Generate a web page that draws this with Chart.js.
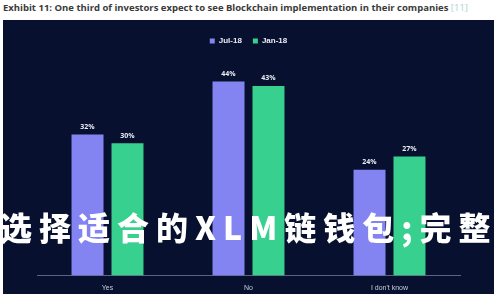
<!DOCTYPE html>
<html>
<head>
<meta charset="utf-8">
<script src="https://cdn.jsdelivr.net/npm/chart.js@4.4.0/dist/chart.umd.min.js"></script>
<style>
  body { margin: 0; background: #fff; width: 500px; height: 300px; overflow: hidden; position: relative; font-family: "Open Sans", "Liberation Sans", sans-serif; }
  .titulo { position: absolute; left: 3px; top: 1px; font-size: 9.5px; font-weight: 700; color: #3a3a3a; white-space: nowrap; }
  .titulo span { color: #a9d4cc; font-weight: 400; }
  .painel { position: absolute; left: 3px; top: 20px; width: 491px; height: 274px; background: #08102f; }
  .sobreposto { position: absolute; left: 0px; top: 203px; font-family: "Noto Sans CJK SC", sans-serif; font-weight: 900; font-size: 32px; color: #fff; white-space: nowrap; letter-spacing: 7px; }
</style>
</head>
<body>
<div class="titulo">Exhibit 11: One third of investors expect to see Blockchain implementation in their companies <span>[11]</span></div>
<div class="painel"><canvas id="grafico" width="491" height="274"></canvas></div>
<div class="sobreposto">选择适合的XLM链钱包;完整</div>
<script>
const categorias = ["Yes", "No", "I don't know"];
const julho18 = [32, 44, 24];
const janeiro18 = [30, 43, 27];

const rotulosBarras = {
  id: 'rotulosBarras',
  afterDatasetsDraw(chart) {
    const ctx = chart.ctx;
    ctx.save();
    ctx.fillStyle = '#e8ecf5';
    ctx.font = 'bold 7px "Open Sans", sans-serif';
    ctx.textAlign = 'center';
    ctx.textBaseline = 'bottom';
    chart.data.datasets.forEach((ds, i) => {
      chart.getDatasetMeta(i).data.forEach((bar, j) => {
        ctx.fillText(ds.data[j] + '%', bar.x, bar.y - 4);
      });
    });
    ctx.restore();
  }
};

const grafico = new Chart(document.getElementById('grafico'), {
  type: 'bar',
  data: {
    labels: categorias,
    datasets: [
      { label: 'Jul-18', data: julho18, backgroundColor: '#8383f2' },
      { label: 'Jan-18', data: janeiro18, backgroundColor: '#38d08e' }
    ]
  },
  options: {
    responsive: false,
    animation: false,
    categoryPercentage: 0.567,
    barPercentage: 0.8,
    layout: { padding: { left: 34, right: 34, top: 6, bottom: 2 } },
    plugins: {
      legend: {
        labels: {
          color: '#e8ecf5',
          font: { size: 8, weight: 'bold' },
          usePointStyle: true,
          pointStyle: 'rect',
          boxWidth: 5,
          boxHeight: 5,
          padding: 11
        }
      },
      tooltip: { enabled: false }
    },
    scales: {
      x: {
        grid: { display: false },
        border: { color: '#5c6480' },
        ticks: { color: '#c8ccd8', font: { size: 7 }, padding: 0 }
      },
      y: {
        display: false,
        min: 0,
        max: 50
      }
    }
  },
  plugins: [rotulosBarras]
});
</script>
</body>
</html>
